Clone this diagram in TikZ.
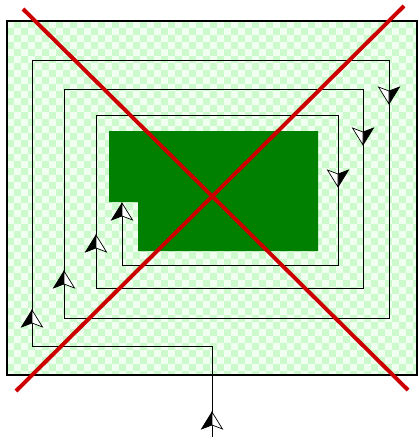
\documentclass[tikz,border=0pt]{standalone}
\usepackage{tikz}
\usetikzlibrary{calc}
\definecolor{mint}{RGB}{204,250,204}
\definecolor{mintlight}{RGB}{240,255,240}
\definecolor{block}{RGB}{0,128,0}
\definecolor{xred}{RGB}{204,0,0}

\begin{document}
\begin{tikzpicture}[
  x=0.025cm, y=-0.025cm,
  frame/.style={line width=1.3pt},
  track/.style={line width=0.6pt},
  cross/.style={line width=2.8pt,xred},
  halfarrow/.pic={
    \fill[black] (0,0) -- (-10.5,17) -- (0,13) -- cycle;
    \filldraw[fill=white,line width=0.5pt] (0,0) -- (10.5,17) -- (0,13) -- cycle;
    \draw[line width=0.5pt] (0,0) -- (-10.5,17) -- (0,13);
  }
]
\useasboundingbox (0,0) rectangle (419,440);

% ===================== field and obstacle =====================
\fill[mint] (7,21) rectangle (417,375);
\begin{scope}
  \clip (7,21) rectangle (417,375);
  % checker texture
  \foreach \j [evaluate=\j as \off using {int(mod(\j,2)*7)}] in {0,...,50}
    \foreach \i in {0,...,29}
      \fill[mintlight] (7+\off+14*\i, 21+7*\j) rectangle ++(7,7);
\end{scope}
\fill[block] (109,131) -- (318,131) -- (318,251) -- (138,251) -- (138,202) -- (109,202) -- cycle;

% ===================== spiral track =====================
\draw[track] (212,437) -- (212,346) -- (32,346) -- (32,60) -- (389,60) -- (389,318)
  -- (64,318) -- (64,89) -- (363,89) -- (363,288) -- (96,288) -- (96,115)
  -- (338,115) -- (338,265) -- (122,265) -- (122,205);

% arrows going up
\foreach \x/\y in {212/412, 32/310, 64/271, 96/235, 122/203}
  \pic at (\x,\y) {halfarrow};
% arrows going down
\foreach \x/\y in {389/104, 363/145, 338/187}
  \pic[rotate=180] at (\x,\y) {halfarrow};

% outer frame
\draw[frame] (7,21) rectangle (417,375);

% ===================== red cross =====================
\draw[cross] (23,9) -- (408,390);
\draw[cross] (16,391) -- (404,6);

\end{tikzpicture}
\end{document}
